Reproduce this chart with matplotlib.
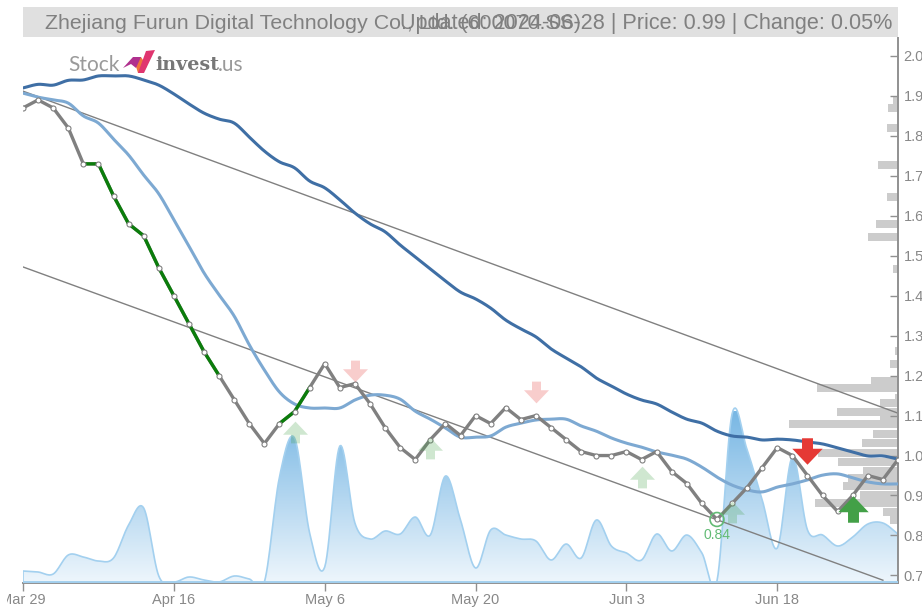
import numpy as np
import matplotlib
matplotlib.use('Agg')
import matplotlib.pyplot as plt
from matplotlib.colors import LinearSegmentedColormap
from matplotlib.markers import MarkerStyle
from matplotlib.patches import Polygon, Rectangle
from matplotlib.path import Path
from matplotlib.transforms import Bbox

plt.rcParams['font.family'] = ['Liberation Sans', 'DejaVu Sans']

W, H = 922, 610

########## Data ####################################
tick_idx = [0, 10, 20, 30, 40, 50]
tick_lab = ['Mar 29', 'Apr 16', 'May 6', 'May 20', 'Jun 3', 'Jun 18']
y_ticks = [0.7, 0.8, 0.9, 1.0, 1.1, 1.2, 1.3, 1.4, 1.5, 1.6, 1.7, 1.8, 1.9, 2.0]

price = [1.87, 1.89, 1.87, 1.82, 1.73, 1.73, 1.65, 1.58, 1.55, 1.47,
         1.40, 1.33, 1.26, 1.20, 1.14, 1.08, 1.03, 1.08, 1.11, 1.17,
         1.23, 1.17, 1.18, 1.13, 1.07, 1.02, 0.99, 1.04, 1.08, 1.05,
         1.10, 1.08, 1.12, 1.09, 1.10, 1.07, 1.04, 1.01, 1.00, 1.00,
         1.01, 0.99, 1.01, 0.96, 0.93, 0.88, 0.84, 0.88, 0.92, 0.97,
         1.02, 1.00, 0.95, 0.90, 0.86, 0.90, 0.95, 0.94, 0.99]

ma_long = [1.920, 1.929, 1.927, 1.939, 1.940, 1.950, 1.950, 1.950, 1.940, 1.927,
           1.905, 1.880, 1.857, 1.842, 1.832, 1.797, 1.762, 1.735, 1.720, 1.687,
           1.670, 1.640, 1.607, 1.580, 1.560, 1.527, 1.497, 1.467, 1.437, 1.409,
           1.392, 1.369, 1.339, 1.317, 1.297, 1.267, 1.244, 1.222, 1.194, 1.174,
           1.154, 1.139, 1.129, 1.109, 1.091, 1.081, 1.061, 1.049, 1.046, 1.039,
           1.041, 1.039, 1.034, 1.029, 1.019, 1.009, 0.999, 0.999, 0.991]

ma_short = [1.907, 1.897, 1.890, 1.882, 1.850, 1.832, 1.792, 1.752, 1.702, 1.655,
            1.590, 1.524, 1.457, 1.402, 1.349, 1.277, 1.214, 1.159, 1.129, 1.119,
            1.119, 1.119, 1.139, 1.151, 1.151, 1.141, 1.111, 1.091, 1.069, 1.046,
            1.046, 1.049, 1.071, 1.081, 1.089, 1.091, 1.091, 1.074, 1.061, 1.044,
            1.031, 1.021, 1.009, 1.001, 0.991, 0.971, 0.946, 0.926, 0.914, 0.909,
            0.921, 0.929, 0.939, 0.951, 0.954, 0.944, 0.934, 0.929, 0.929]

volume = [12, 11, 9, 28, 26, 22, 25, 58, 75, 7,
          1, 6, 3, 1, 7, 4, 1, 106, 145, 50,
          16, 137, 60, 44, 52, 49, 66, 48, 107, 63,
          15, 53, 48, 44, 42, 23, 39, 25, 63, 37,
          30, 23, 49, 32, 48, 30, 2, 169, 133, 83,
          35, 126, 53, 48, 37, 46, 59, 60, 49]

trend_top_x = [0, 58]
trend_top_y = [1.912, 1.106]
trend_low_x = [0, 57]
trend_low_y = [1.472, 0.688]

prof_price = [1.890, 1.869, 1.819, 1.728, 1.648, 1.579, 1.548, 1.468, 1.330,
              1.262, 1.229, 1.186, 1.169, 1.144, 1.131, 1.109, 1.091, 1.079,
              1.054, 1.031, 1.006, 0.984, 0.961, 0.944, 0.924, 0.901, 0.881,
              0.859, 0.839]
prof_size = [5, 10, 11, 20, 11, 22, 30, 5, 1,
             3, 8, 27, 81, 3, 18, 61, 18, 109,
             25, 36, 80, 60, 35, 50, 55, 38, 83,
             15, 8]

green_runs = [(4, 13), (17, 19)]
weak_up = [(18, 1.060), (27, 1.019), (41, 0.947), (47, 0.859)]
weak_down = [(22, 1.211), (34, 1.159)]
strong_down = (52, 1.012)
strong_up = (55, 0.865)
low_idx = 46
low_val = 0.84


def smooth_curve(y, n=14):
    # cardinal spline through the points, the tangents come from the neighbours
    y = np.asarray(y, float)
    x = np.arange(len(y), dtype=float)
    m = np.zeros(len(y))
    m[1:-1] = (y[2:]-y[:-2])/2
    m[0] = y[1]-y[0]
    m[-1] = y[-1]-y[-2]
    xs, ys = [], []
    for i in range(len(y)-1):
        t = np.linspace(0, 1, n, endpoint=False)
        h00 = 2*t**3-3*t**2+1
        h10 = t**3-2*t**2+t
        h01 = -2*t**3+3*t**2
        h11 = t**3-t**2
        xs.append(x[i]+t)
        ys.append(h00*y[i]+h10*m[i]+h01*y[i+1]+h11*m[i+1])
    xs.append([x[-1]])
    ys.append([y[-1]])
    return np.concatenate(xs), np.concatenate(ys)


def px(x, y):
    return x/W, 1-y/H


############## Figure and axes ################
fig = plt.figure(figsize=(W/100, H/100), dpi=100, facecolor='white')
pos = [23/W, 1-583/H, 875/W, 545/H]

ax_vol = fig.add_axes(pos, zorder=1)
ax_vol.axis('off')
ax_prof = fig.add_axes(pos, zorder=2)
ax_prof.axis('off')
ax = fig.add_axes(pos, zorder=3)
ax.patch.set_visible(False)

xlim = (0, 58)
ylim = (0.681, 2.045)

############## Volume area ################
vx, vy = smooth_curve(volume)
vy = np.clip(vy, 0, None)
ax_vol.set_xlim(*xlim)
ax_vol.set_ylim(0, 545)
cmap = LinearSegmentedColormap.from_list('vol', ['#eef6fc', '#78b7e4'])
area = ax_vol.fill_between(vx, vy, 0, color='none')
grad = ax_vol.imshow(np.linspace(1, 0, 256).reshape(-1, 1), cmap=cmap, aspect='auto',
                     extent=[0, 58, 0, 172], zorder=1)
grad.set_clip_path(area.get_paths()[0], ax_vol.transData)
ax_vol.plot(vx, vy, color='#a3d0ef', lw=1.2, zorder=2)
ax_vol.vlines([0, 58], 0, [volume[0], volume[-1]], color='#a3d0ef', lw=1.2, zorder=2)
ax_vol.set_xlim(*xlim)
ax_vol.set_ylim(0, 545)

############## Price profile at the right ################
ax_prof.set_xlim(875, 0)
ax_prof.set_ylim(*ylim)
ax_prof.barh(prof_price, prof_size, height=0.02, color='#cccccc', linewidth=0)

############## Trend lines and averages ################
ax.plot(trend_top_x, trend_top_y, color='#808080', lw=1.0, zorder=2)
ax.plot(trend_low_x, trend_low_y, color='#808080', lw=1.0, zorder=2)
x = np.arange(len(price))
ax.plot(*smooth_curve(ma_long), color='#3f6fa5', lw=2.2, zorder=3)
ax.plot(*smooth_curve(ma_short), color='#7da9d2', lw=2.2, zorder=3)

############## Price line ################
ax.plot(x, price, color='#808080', lw=2.4, zorder=4)
for a, b in green_runs:
    ax.plot(x[a:b+1], price[a:b+1], color='#0b7d0b', lw=2.4, zorder=5)
ax.plot(x, price, ls='none', marker='o', ms=3.6, mfc='white', mec='#808080', mew=0.8, zorder=6)

############## Buy and sell arrows ################
up_shape = np.array([[0, 0.435], [0.5, -0.09], [0.18, -0.09], [0.18, -0.435], [-0.18, -0.435], [-0.18, -0.09], [-0.5, -0.09]])
down_shape = up_shape*np.array([1, -1])
up_marker = MarkerStyle(Path(np.vstack([up_shape, up_shape[:1]]), closed=True))
down_marker = MarkerStyle(Path(np.vstack([down_shape, down_shape[:1]]), closed=True))

ax.scatter(*zip(*weak_up), marker=up_marker, s=324, color='#43a047', alpha=0.25, linewidths=0, zorder=7)
ax.scatter(*zip(*weak_down), marker=down_marker, s=324, color='#e53935', alpha=0.25, linewidths=0, zorder=7)
ax.scatter(*strong_down, marker=down_marker, s=480, color='#e53935', linewidths=0, zorder=8)
ax.scatter(*strong_up, marker=up_marker, s=480, color='#43a047', linewidths=0, zorder=8)

############## Low marker ################
ax.scatter([low_idx], [low_val], s=100, facecolor='none', edgecolor='#62bb75', linewidths=1.2, zorder=8)
ax.annotate('%.2f' % low_val, (low_idx, low_val), xytext=(0, -11), textcoords='offset points',
            ha='center', va='center', fontsize=10, color='#62bb75', zorder=8)

############## Axes ################
ax.set_xlim(*xlim)
ax.set_ylim(*ylim)
ax.yaxis.tick_right()
for s in ['left', 'top']:
    ax.spines[s].set_visible(False)
for s in ['right', 'bottom']:
    ax.spines[s].set_color('#909090')
    ax.spines[s].set_linewidth(1.4)
ax.axhline(ylim[0]+0.003, color='#a3d0ef', lw=1.4, zorder=5)
ax.set_yticks(y_ticks)
ax.set_yticklabels(['%.1f' % v for v in y_ticks])
ax.set_xticks(tick_idx)
ax.set_xticklabels(tick_lab)
ax.tick_params(axis='y', direction='in', length=6, width=1, color='#909090', pad=4, labelsize=10.5, labelcolor='#888888')
ax.tick_params(axis='x', direction='out', length=6, width=1, color='#909090', pad=1.5, labelsize=10.5, labelcolor='#888888')
# first date label is cut off in the original
first = ax.get_xticklabels()[0]
first.set_clip_box(Bbox([[7, 0], [W, H]]))
first.set_clip_on(True)

############## Title bar ################
fig.add_artist(Rectangle(px(23, 37), 875/W, 30/H, transform=fig.transFigure, color='#e0e0e0', lw=0, zorder=-1))
fig.text(*px(45, 23.5), 'Zhejiang Furun Digital Technology Co., Ltd. (600070.SS)', ha='left', va='center',
         fontsize=15.4, color='#808080')
fig.text(*px(892, 23.5), 'Updated: 2024-06-28 | Price: 0.99 | Change: 0.05%', ha='right', va='center',
         fontsize=15.6, color='#808080')

############## Logo ################
fig.text(*px(68, 65), 'Stock', ha='left', va='center', fontsize=15, color='#9a9a9a', family='Lato')
fig.text(*px(155, 65), 'invest', ha='left', va='center', fontsize=13.8, color='#777777',
         family='DejaVu Serif', weight='bold')
fig.text(*px(218, 65), '.us', ha='left', va='center', fontsize=15, color='#9a9a9a', family='Lato')
logo = [([(133, 57), (141, 57), (147, 66), (143, 73), (138, 73)], '#f0743a'),
        ([(123, 68), (133, 57), (141, 57), (136, 68), (131, 64)], '#b0308e'),
        ([(138, 73), (146, 51), (155, 50), (144, 73)], '#e0356f')]
for pts, col in logo:
    fig.add_artist(Polygon([px(*p) for p in pts], closed=True, transform=fig.transFigure, color=col, lw=0))

fig.savefig('out.png', dpi=100)
